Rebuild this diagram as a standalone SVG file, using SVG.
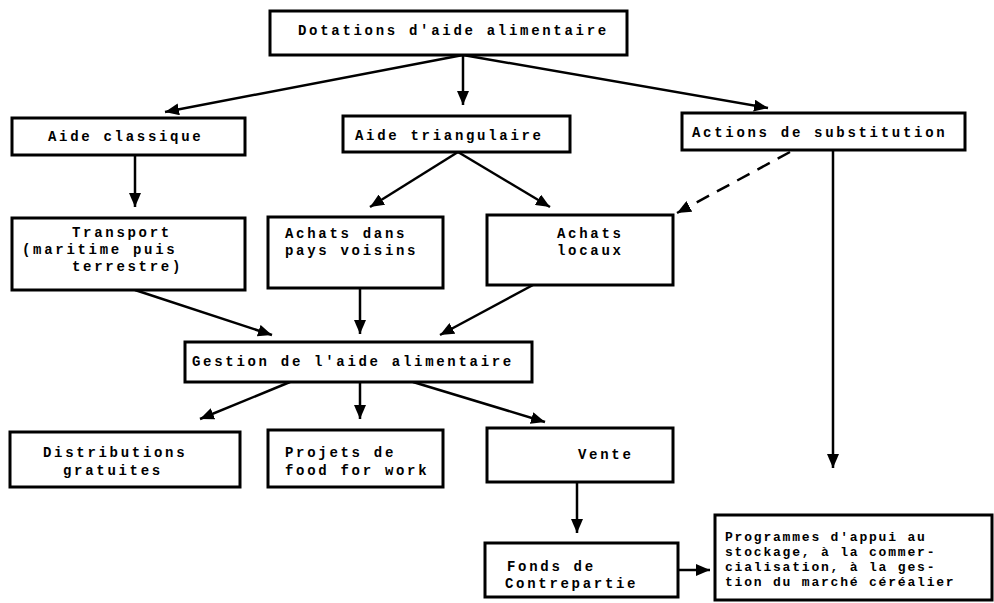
<svg xmlns="http://www.w3.org/2000/svg" width="994" height="603" viewBox="0 0 994 603">
  <style>
    .box { fill: #fff; stroke: #000; stroke-width: 3; }
    .lbl { font-family: "Liberation Mono", "DejaVu Sans Mono", monospace; font-weight: bold; font-size: 14px; letter-spacing: 2.7px; fill: #000; }
    .sm { font-size: 13px; letter-spacing: 1.8px; }
    .edge { fill: none; stroke: #000; stroke-width: 2.5; marker-end: url(#ah); }
    .dash { stroke-dasharray: 14 9; }
  </style>
  <defs>
    <marker id="ah" markerUnits="userSpaceOnUse" markerWidth="14" markerHeight="12" refX="14" refY="6" orient="auto">
      <path d="M0,0 L14,6 L0,12 z" fill="#000"/>
    </marker>
  </defs>
  <rect width="994" height="603" fill="#fff"/>

  <g id="connectors">
    <line class="edge" x1="463" y1="55" x2="165" y2="112"/>
    <line class="edge" x1="463" y1="55" x2="463" y2="105"/>
    <line class="edge" x1="463" y1="55" x2="768" y2="108"/>
    <line class="edge" x1="135" y1="155" x2="135" y2="207"/>
    <line class="edge" x1="458" y1="152" x2="370" y2="207"/>
    <line class="edge" x1="458" y1="152" x2="550" y2="207"/>
    <line class="edge dash" x1="790" y1="152" x2="677" y2="213"/>
    <line class="edge" x1="833" y1="150" x2="833" y2="468"/>
    <line class="edge" x1="135" y1="290" x2="272" y2="335"/>
    <line class="edge" x1="360" y1="288" x2="360" y2="334"/>
    <line class="edge" x1="533" y1="285" x2="440" y2="335"/>
    <line class="edge" x1="290" y1="382" x2="200" y2="419"/>
    <line class="edge" x1="360" y1="382" x2="360" y2="419"/>
    <line class="edge" x1="413" y1="382" x2="545" y2="422"/>
    <line class="edge" x1="577" y1="482" x2="577" y2="533"/>
    <line class="edge" x1="678" y1="570" x2="710" y2="570"/>
  </g>

  <g id="dotations">
    <rect class="box" x="270" y="11" width="357" height="44"/>
    <text class="lbl" x="298" y="35">Dotations d'aide alimentaire</text>
  </g>
  <g id="aide-classique">
    <rect class="box" x="12" y="118" width="233" height="37"/>
    <text class="lbl" x="48" y="141">Aide classique</text>
  </g>
  <g id="aide-triangulaire">
    <rect class="box" x="343" y="116" width="227" height="36"/>
    <text class="lbl" x="355" y="140">Aide triangulaire</text>
  </g>
  <g id="actions-substitution">
    <rect class="box" x="682" y="113" width="283" height="37"/>
    <text class="lbl" x="692" y="137">Actions de substitution</text>
  </g>
  <g id="transport">
    <rect class="box" x="12" y="218" width="233" height="72"/>
    <text class="lbl" x="72" y="237">Transport</text>
    <text class="lbl" x="22" y="254">(maritime puis</text>
    <text class="lbl" x="72" y="271">terrestre)</text>
  </g>
  <g id="achats-voisins">
    <rect class="box" x="268" y="217" width="175" height="71"/>
    <text class="lbl" x="285" y="238">Achats dans</text>
    <text class="lbl" x="285" y="255">pays voisins</text>
  </g>
  <g id="achats-locaux">
    <rect class="box" x="487" y="215" width="186" height="70"/>
    <text class="lbl" x="557" y="238">Achats</text>
    <text class="lbl" x="557" y="255">locaux</text>
  </g>
  <g id="gestion">
    <rect class="box" x="185" y="342" width="347" height="40"/>
    <text class="lbl" x="192" y="366">Gestion de l'aide alimentaire</text>
  </g>
  <g id="distributions">
    <rect class="box" x="10" y="432" width="230" height="55"/>
    <text class="lbl" x="43" y="457">Distributions</text>
    <text class="lbl" x="63" y="475">gratuites</text>
  </g>
  <g id="food-for-work">
    <rect class="box" x="268" y="430" width="175" height="57"/>
    <text class="lbl" x="285" y="457">Projets de</text>
    <text class="lbl" x="285" y="475">food for work</text>
  </g>
  <g id="vente">
    <rect class="box" x="487" y="428" width="186" height="54"/>
    <text class="lbl" x="578" y="459">Vente</text>
  </g>
  <g id="fonds">
    <rect class="box" x="485" y="543" width="193" height="54"/>
    <text class="lbl" x="507" y="571">Fonds de</text>
    <text class="lbl" x="505" y="588">Contrepartie</text>
  </g>
  <g id="programmes">
    <rect class="box" x="715" y="515" width="277" height="85"/>
    <text class="lbl sm" x="725" y="541">Programmes d'appui au</text>
    <text class="lbl sm" x="725" y="556">stockage, à la commer-</text>
    <text class="lbl sm" x="725" y="571">cialisation, à la ges-</text>
    <text class="lbl sm" x="725" y="586">tion du marché céréalier</text>
  </g>
</svg>
